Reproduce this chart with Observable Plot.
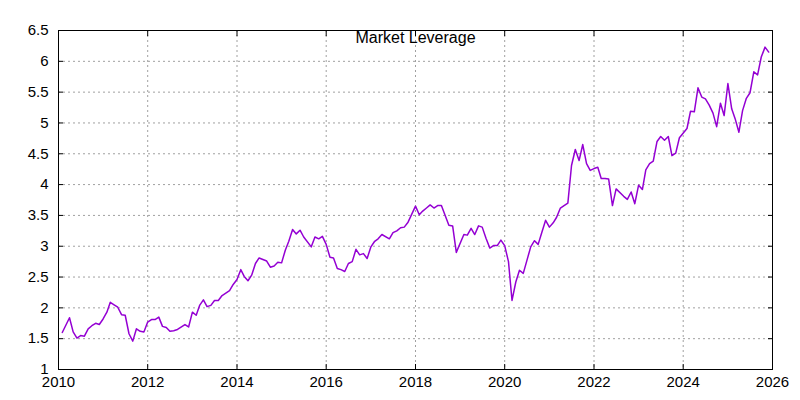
<!DOCTYPE html>
<html>
<head>
<meta charset="utf-8">
<script src="https://cdn.jsdelivr.net/npm/d3@7"></script>
<script src="https://cdn.jsdelivr.net/npm/@observablehq/plot@0.6"></script>
<style>
  html, body { margin: 0; padding: 0; background: #fff; }
  #chart { width: 800px; height: 400px; }
</style>
</head>
<body>
<div id="chart"></div>
<script>
const title = "Market Leverage";

const months = [
  "2010-02","2010-04","2010-05","2010-06","2010-07","2010-08","2010-09","2010-10","2010-11","2010-12",
  "2011-01","2011-02","2011-03","2011-04","2011-05","2011-06","2011-07","2011-08","2011-09","2011-10","2011-11","2011-12",
  "2012-01","2012-02","2012-03","2012-04","2012-05","2012-06","2012-07","2012-08","2012-09","2012-11","2012-12",
  "2013-01","2013-02","2013-03","2013-04","2013-05","2013-06","2013-07","2013-08","2013-09","2013-11","2013-12",
  "2014-01","2014-02","2014-03","2014-04","2014-05","2014-06","2014-07","2014-09","2014-10","2014-11","2014-12",
  "2015-01","2015-02","2015-03","2015-04","2015-05","2015-06","2015-07","2015-09","2015-10","2015-11","2015-12",
  "2016-01","2016-02","2016-03","2016-04","2016-05","2016-06","2016-07","2016-08","2016-09","2016-10","2016-11","2016-12",
  "2017-01","2017-02","2017-03","2017-04","2017-06","2017-07","2017-08","2017-09","2017-10","2017-11",
  "2018-01","2018-02","2018-03","2018-04","2018-05","2018-06","2018-07","2018-08","2018-10","2018-11","2018-12",
  "2019-02","2019-03","2019-04","2019-05","2019-06","2019-07","2019-08","2019-09","2019-10","2019-11","2019-12",
  "2020-01","2020-02","2020-03","2020-04","2020-05","2020-06","2020-07","2020-08","2020-09","2020-10","2020-11","2020-12",
  "2021-01","2021-02","2021-03","2021-04","2021-05","2021-06","2021-07","2021-08","2021-09","2021-10","2021-11","2021-12",
  "2022-01","2022-02","2022-03","2022-04","2022-05","2022-06","2022-07","2022-09","2022-10","2022-11","2022-12",
  "2023-01","2023-02","2023-03","2023-04","2023-05","2023-06","2023-07","2023-08","2023-09","2023-10","2023-11","2023-12",
  "2024-02","2024-03","2024-04","2024-05","2024-06","2024-07","2024-08","2024-09","2024-10","2024-11","2024-12",
  "2025-01","2025-02","2025-03","2025-04","2025-05","2025-06","2025-07","2025-08","2025-09","2025-10","2025-11","2025-12"
];

const leverage = [
  1.60,1.84,1.61,1.51,1.55,1.54,1.66,1.71,1.75,1.73,
  1.82,1.93,2.09,2.05,2.01,1.89,1.88,1.58,1.46,1.66,1.62,1.61,
  1.77,1.81,1.81,1.85,1.70,1.68,1.62,1.63,1.65,1.73,1.69,
  1.93,1.88,2.04,2.13,2.02,2.04,2.12,2.12,2.20,2.28,2.38,
  2.46,2.62,2.51,2.44,2.53,2.72,2.81,2.76,2.66,2.68,2.74,
  2.73,2.94,3.08,3.27,3.20,3.26,3.15,2.99,3.15,3.12,3.16,
  3.03,2.82,2.81,2.64,2.62,2.59,2.72,2.75,2.95,2.86,2.88,2.80,
  2.99,3.08,3.12,3.19,3.12,3.22,3.25,3.30,3.31,3.39,
  3.65,3.51,3.57,3.62,3.67,3.62,3.66,3.66,3.34,3.33,2.90,
  3.19,3.18,3.29,3.19,3.33,3.31,3.13,2.97,3.01,3.01,3.10,
  3.01,2.75,2.12,2.42,2.61,2.56,2.77,2.99,3.09,3.03,3.23,3.42,
  3.31,3.38,3.47,3.62,3.66,3.70,4.31,4.57,4.39,4.65,4.34,4.23,
  4.26,4.28,4.10,4.10,4.09,3.66,3.93,3.81,3.76,3.88,3.69,
  3.99,3.92,4.24,4.34,4.38,4.70,4.78,4.72,4.78,4.47,4.51,4.76,
  4.91,5.19,5.18,5.57,5.42,5.39,5.29,5.16,4.94,5.32,5.12,
  5.64,5.23,5.07,4.85,5.20,5.40,5.49,5.83,5.78,6.07,6.23,6.15
];

const xTickYears = [2010, 2012, 2014, 2016, 2018, 2020, 2022, 2024, 2026];
const yTicks = [1, 1.5, 2, 2.5, 3, 3.5, 4, 4.5, 5, 5.5, 6, 6.5];

const parseMonth = d3.utcParse("%Y-%m");
const data = months.map((m, i) => ({date: parseMonth(m), value: leverage[i]}));
const xTicks = xTickYears.map(y => new Date(Date.UTC(y, 0, 1)));

const gridStyle = {stroke: "#a0a0a0", strokeOpacity: 1, strokeDasharray: "2,3", strokeWidth: 1};

const chart = Plot.plot({
  width: 800,
  height: 400,
  marginLeft: 58,
  marginRight: 28,
  marginTop: 30,
  marginBottom: 31,
  style: {fontFamily: "'Liberation Sans', Arial, sans-serif", fontSize: "15px", background: "#fff", color: "#000"},
  x: {type: "utc", domain: [xTicks[0], xTicks[xTicks.length - 1]]},
  y: {domain: [1, 6.5]},
  marks: [
    Plot.gridX(xTicks, gridStyle),
    Plot.gridY(yTicks, gridStyle),
    Plot.axisX(xTicks, {anchor: "bottom", tickSize: 0, tickPadding: 7, tickFormat: d3.utcFormat("%Y"), label: null, fontSize: 15}),
    Plot.axisY(yTicks, {anchor: "left", tickSize: 0, tickPadding: 10, tickFormat: d => String(d), label: null, fontSize: 15}),
    Plot.axisX(xTicks, {anchor: "bottom", tickSize: -5, tickFormat: () => "", label: null}),
    Plot.axisX(xTicks, {anchor: "top", tickSize: -5, tickFormat: () => "", label: null}),
    Plot.axisY(yTicks, {anchor: "left", tickSize: -5, tickFormat: () => "", label: null}),
    Plot.axisY(yTicks, {anchor: "right", tickSize: -5, tickFormat: () => "", label: null}),
    Plot.line(data, {x: "date", y: "value", stroke: "#9400d3", strokeWidth: 1.5, curve: "linear"}),
    Plot.frame({stroke: "#000", strokeWidth: 1}),
    Plot.text([title], {frameAnchor: "top", lineAnchor: "top", dy: 1, fontSize: 16, fill: "#000"})
  ]
});

document.getElementById("chart").appendChild(chart);
</script>
</body>
</html>
